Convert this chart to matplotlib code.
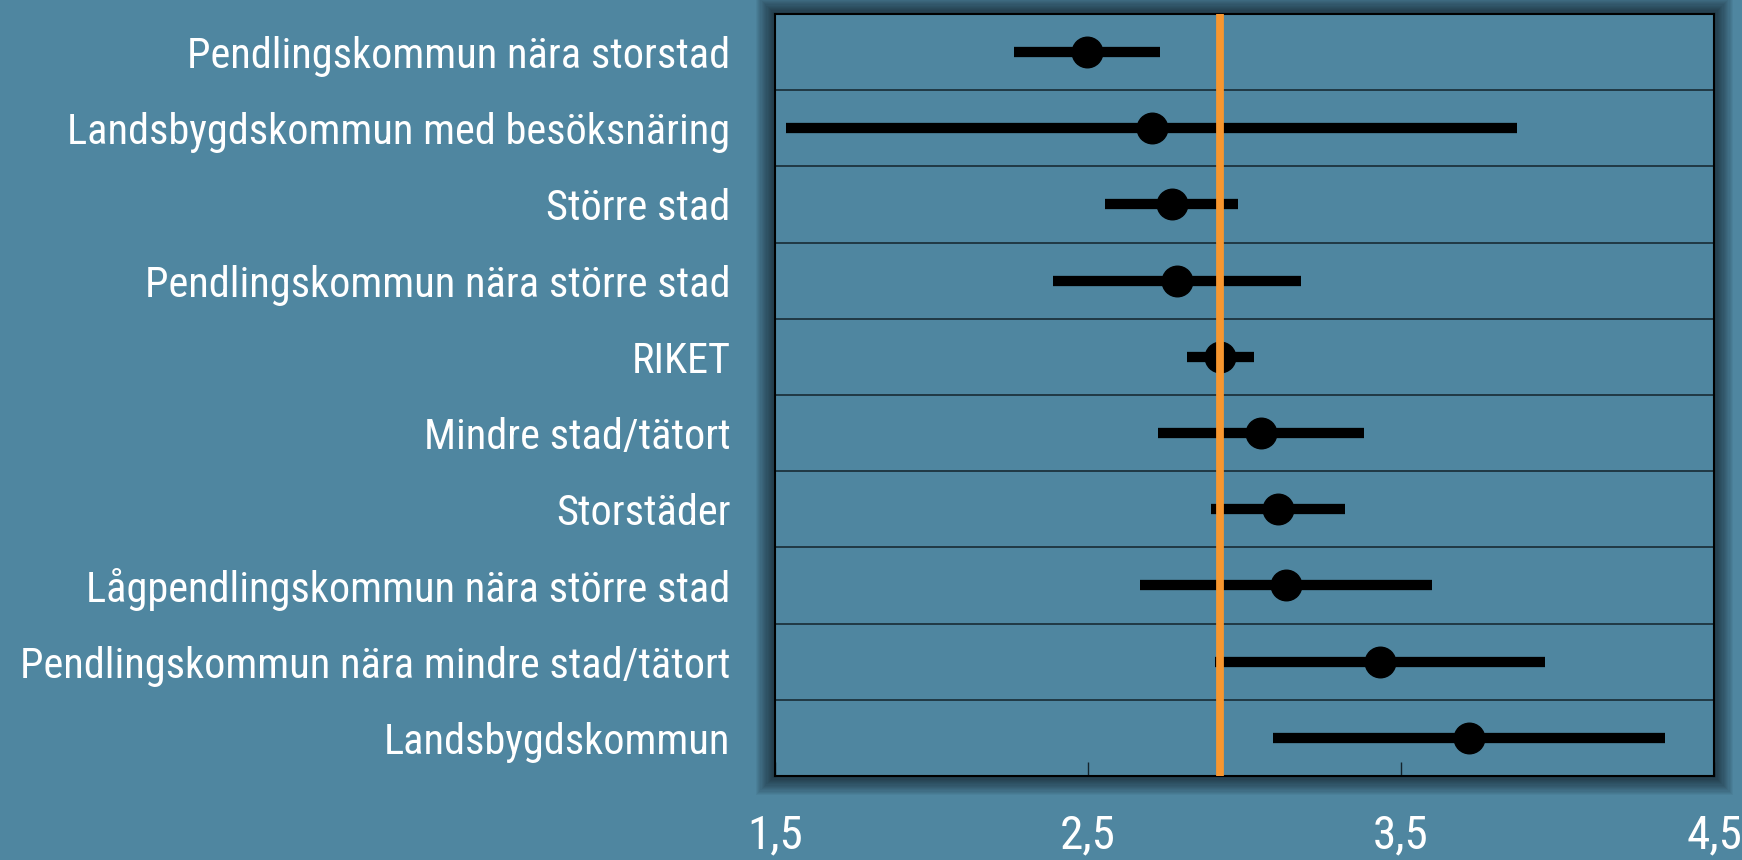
import matplotlib
matplotlib.use("Agg")
import matplotlib.pyplot as plt
from matplotlib import font_manager
from matplotlib.patches import Rectangle
import numpy as np

categories = [
    "Pendlingskommun nära storstad",
    "Landsbygdskommun med besöksnäring",
    "Större stad",
    "Pendlingskommun nära större stad",
    "RIKET",
    "Mindre stad/tätort",
    "Storstäder",
    "Lågpendlingskommun nära större stad",
    "Pendlingskommun nära mindre stad/tätort",
    "Landsbygdskommun",
]
values = [2.497, 2.704, 2.768, 2.786, 2.921, 3.053, 3.106, 3.133, 3.433, 3.718]
lower = [2.265, 1.536, 2.555, 2.390, 2.818, 2.723, 2.893, 2.667, 2.906, 3.092]
upper = [2.730, 3.871, 2.979, 3.181, 3.030, 3.383, 3.321, 3.600, 3.960, 4.344]
reference_value = 2.921
xticks = [1.5, 2.5, 3.5, 4.5]
xtick_labels = ["1,5", "2,5", "3,5", "4,5"]

# choose a condensed font if available
names = {f.name for f in font_manager.fontManager.ttflist}
font = "DejaVu Sans"
stretch = "normal"
for cand in ["Liberation Sans Narrow", "Roboto Condensed", "Open Sans Condensed",
             "DejaVu Sans Condensed"]:
    if cand in names:
        font = cand
        break
else:
    stretch = "condensed"

BG = "#4f86a0"
W, H = 1742, 860
fig = plt.figure(figsize=(W / 100, H / 100), dpi=100, facecolor=BG)

l, r, t, b = 774.7, 1714, 14, 776
ax = fig.add_axes([l / W, 1 - b / H, (r - l) / W, (b - t) / H])
ax.set_facecolor(BG)

# soft shadow around the plot area
for i in range(16, 0, -1):
    d = i * 1.2
    fig.patches.append(Rectangle(((l - d) / W, 1 - (b + d) / H), (r - l + 2 * d) / W,
                                 (b - t + 2 * d) / H, transform=fig.transFigure,
                                 facecolor="black", edgecolor="none", alpha=0.045,
                                 zorder=-5))

y = np.arange(len(categories))
v = np.array(values)
xerr = [v - np.array(lower), np.array(upper) - v]
ax.errorbar(v, y, xerr=xerr, fmt="o", color="black", ms=22, elinewidth=7.4,
            capsize=0, zorder=3)
ax.axvline(reference_value, color="#f7962f", lw=5.6, zorder=5)
for k in range(len(categories) - 1):
    ax.axhline(k + 0.5, color="#13232b", lw=1.1, zorder=1)

ax.set_xlim(1.5, 4.5)
ax.set_ylim(len(categories) - 0.5, -0.5)
ax.set_xticks(xticks)
ax.set_xticklabels(xtick_labels)
ax.set_yticks(y)
ax.set_yticklabels(categories)
ax.tick_params(axis="y", length=0, pad=32, labelsize=30.5, labelcolor="white")
ax.tick_params(axis="x", direction="in", length=10, width=1, color="#13232b",
               pad=27, labelsize=34, labelcolor="white")
for lab in ax.get_xticklabels() + ax.get_yticklabels():
    lab.set_fontfamily(font)
    lab.set_fontstretch(stretch)
for s in ax.spines.values():
    s.set_color("black")
    s.set_linewidth(1.5)

fig.savefig("out.png", dpi=100, facecolor=BG)
